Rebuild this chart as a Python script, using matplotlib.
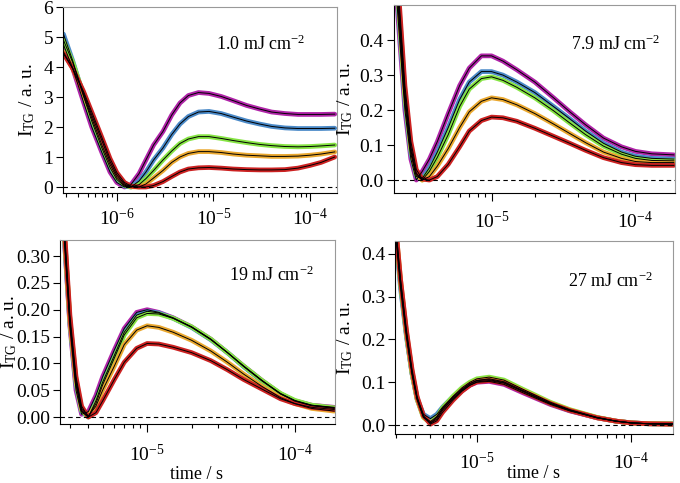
import matplotlib
matplotlib.use("Agg")
import matplotlib.pyplot as plt
from matplotlib.ticker import LogLocator, NullFormatter

plt.rcParams['font.family'] = ['Liberation Serif', 'DejaVu Serif']
plt.rcParams['mathtext.fontset'] = 'custom'
plt.rcParams['mathtext.rm'] = 'Liberation Serif'
plt.rcParams['mathtext.it'] = 'Liberation Serif:italic'
plt.rcParams['font.size'] = 12

colors = ["#b024a8", "#4b8ac8", "#86e444", "#eaa830", "#cc2222"]

# ---- 1.0 mJ cm-2 ----
t1 = [2.8e-7, 3.5e-7, 4.5e-7, 5.5e-7, 7e-7, 8.5e-7, 1e-6, 1.2e-6, 1.4e-6, 1.7e-6, 2e-6, 2.4e-6, 3e-6, 3.7e-6,
      4.5e-6, 5.5e-6, 7e-6, 9e-6, 1.2e-5, 1.6e-5, 2.2e-5, 3e-5, 4e-5, 5.5e-5, 7.5e-5, 1e-4, 1.3e-4, 1.8e-4]
m1 = [4.75, 3.95, 2.85, 2.0, 1.15, 0.5, 0.15, 0.0, 0.08, 0.45, 0.9, 1.4, 1.85, 2.4, 2.8, 3.05, 3.15, 3.12,
      3.02, 2.88, 2.72, 2.6, 2.5, 2.45, 2.42, 2.42, 2.42, 2.43]
b1 = [5.1, 4.2, 3.05, 2.2, 1.3, 0.65, 0.25, 0.03, 0.0, 0.2, 0.5, 0.9, 1.3, 1.75, 2.1, 2.35, 2.5, 2.52,
      2.45, 2.33, 2.2, 2.1, 2.02, 1.97, 1.95, 1.95, 1.95, 1.96]
g1 = [4.9, 4.15, 3.1, 2.3, 1.4, 0.75, 0.32, 0.06, 0.0, 0.08, 0.28, 0.55, 0.9, 1.2, 1.45, 1.6, 1.68, 1.68,
      1.62, 1.55, 1.48, 1.42, 1.38, 1.35, 1.34, 1.35, 1.37, 1.4]
o1 = [4.5, 3.95, 3.15, 2.4, 1.55, 0.85, 0.4, 0.1, 0.01, 0.0, 0.1, 0.3, 0.55, 0.82, 1.0, 1.12, 1.18, 1.18,
      1.15, 1.1, 1.06, 1.04, 1.02, 1.02, 1.03, 1.06, 1.1, 1.17]
r1 = [4.45, 3.95, 3.2, 2.5, 1.65, 0.95, 0.48, 0.15, 0.03, 0.0, 0.0, 0.05, 0.18, 0.35, 0.5, 0.6, 0.64, 0.65,
      0.63, 0.6, 0.58, 0.57, 0.57, 0.58, 0.63, 0.72, 0.82, 1.0]

# ---- 7.9 mJ cm-2 ----
t2 = [2.1e-6, 2.3e-6, 2.5e-6, 2.75e-6, 3e-6, 3.3e-6, 3.7e-6, 4.2e-6, 5e-6, 6e-6, 7e-6, 8.5e-6, 1e-5, 1.2e-5,
      1.5e-5, 2e-5, 2.7e-5, 3.5e-5, 4.5e-5, 6e-5, 8e-5, 1e-4, 1.3e-4, 1.85e-4]
m2 = [0.62, 0.40, 0.2, 0.06, 0.0, 0.025, 0.06, 0.11, 0.19, 0.27, 0.32, 0.355, 0.355, 0.34, 0.315, 0.28,
      0.235, 0.195, 0.158, 0.12, 0.095, 0.082, 0.075, 0.072]
b2 = [0.66, 0.43, 0.22, 0.075, 0.01, 0.005, 0.035, 0.08, 0.15, 0.23, 0.28, 0.31, 0.31, 0.3, 0.28, 0.25,
      0.21, 0.175, 0.14, 0.105, 0.08, 0.068, 0.062, 0.06]
g2 = [0.68, 0.45, 0.24, 0.085, 0.015, 0.0, 0.025, 0.065, 0.13, 0.21, 0.26, 0.29, 0.295, 0.285, 0.265, 0.235,
      0.198, 0.163, 0.13, 0.097, 0.074, 0.062, 0.056, 0.055]
o2 = [0.70, 0.47, 0.25, 0.095, 0.02, 0.0, 0.01, 0.04, 0.09, 0.15, 0.195, 0.225, 0.235, 0.23, 0.215, 0.19,
      0.16, 0.133, 0.107, 0.08, 0.062, 0.053, 0.05, 0.05]
r2 = [0.72, 0.49, 0.27, 0.11, 0.03, 0.003, 0.0, 0.01, 0.045, 0.095, 0.14, 0.17, 0.18, 0.178, 0.168, 0.148,
      0.125, 0.105, 0.085, 0.064, 0.05, 0.044, 0.042, 0.042]

# ---- 19 mJ cm-2 ----
t3 = [2.6e-6, 2.8e-6, 3e-6, 3.3e-6, 3.6e-6, 4e-6, 4.5e-6, 5e-6, 6e-6, 7e-6, 8.5e-6, 1e-5, 1.2e-5, 1.5e-5,
      2e-5, 2.7e-5, 3.5e-5, 4.5e-5, 6e-5, 8e-5, 1e-4, 1.3e-4, 1.85e-4]
m3 = [0.44, 0.3, 0.17, 0.05, 0.005, 0.01, 0.04, 0.075, 0.125, 0.165, 0.195, 0.2, 0.195, 0.185, 0.168, 0.145,
      0.12, 0.095, 0.068, 0.043, 0.03, 0.022, 0.018]
b3 = [0.44, 0.3, 0.175, 0.06, 0.01, 0.0, 0.03, 0.065, 0.115, 0.158, 0.19, 0.197, 0.194, 0.184, 0.167, 0.144,
      0.12, 0.094, 0.067, 0.043, 0.03, 0.021, 0.016]
g3 = [0.45, 0.31, 0.18, 0.065, 0.012, 0.0, 0.025, 0.06, 0.11, 0.153, 0.185, 0.193, 0.192, 0.184, 0.168, 0.145,
      0.12, 0.095, 0.068, 0.044, 0.031, 0.022, 0.017]
o3 = [0.45, 0.31, 0.18, 0.07, 0.015, 0.002, 0.02, 0.05, 0.095, 0.135, 0.162, 0.17, 0.167, 0.158, 0.143, 0.123,
      0.102, 0.08, 0.057, 0.036, 0.025, 0.016, 0.011]
r3 = [0.46, 0.32, 0.19, 0.075, 0.02, 0.0, 0.008, 0.03, 0.07, 0.102, 0.128, 0.137, 0.136, 0.13, 0.12, 0.105,
      0.088, 0.07, 0.052, 0.034, 0.025, 0.018, 0.014]

# ---- 27 mJ cm-2 ----
t4 = [2.95e-6, 3.2e-6, 3.5e-6, 3.8e-6, 4.1e-6, 4.5e-6, 5e-6, 5.5e-6, 6e-6, 7e-6, 8e-6, 9e-6, 1e-5, 1.2e-5,
      1.5e-5, 2e-5, 3e-5, 4e-5, 6e-5, 8e-5, 1e-4, 1.3e-4, 1.85e-4]
m4 = [0.47, 0.33, 0.21, 0.12, 0.06, 0.02, 0.008, 0.02, 0.038, 0.062, 0.08, 0.093, 0.1, 0.102, 0.095, 0.075,
      0.048, 0.033, 0.017, 0.009, 0.005, 0.003, 0.003]
b4 = [0.46, 0.32, 0.205, 0.12, 0.062, 0.025, 0.015, 0.025, 0.042, 0.066, 0.084, 0.097, 0.104, 0.106, 0.099,
      0.079, 0.05, 0.034, 0.017, 0.009, 0.005, 0.003, 0.002]
g4 = [0.47, 0.33, 0.21, 0.12, 0.06, 0.018, 0.005, 0.018, 0.04, 0.067, 0.087, 0.1, 0.108, 0.112, 0.105, 0.083,
      0.053, 0.036, 0.018, 0.009, 0.005, 0.003, 0.003]
o4 = [0.48, 0.34, 0.215, 0.125, 0.063, 0.02, 0.004, 0.014, 0.035, 0.062, 0.082, 0.096, 0.104, 0.108, 0.101,
      0.08, 0.051, 0.035, 0.017, 0.009, 0.005, 0.003, 0.002]
r4 = [0.48, 0.34, 0.22, 0.13, 0.066, 0.022, 0.002, 0.01, 0.03, 0.058, 0.079, 0.093, 0.101, 0.104, 0.098,
      0.078, 0.05, 0.034, 0.017, 0.009, 0.005, 0.003, 0.002]

labels = ["1.0 mJ cm$^{-2}$", "7.9 mJ cm$^{-2}$", "19 mJ cm$^{-2}$", "27 mJ cm$^{-2}$"]

panels = [
    dict(t=t1, ys=[m1, b1, g1, o1, r1], rect=[0.0926, 0.6004, 0.403, 0.385], xlim=(2.77e-7, 1.9e-4),
         ylim=(-0.2, 6.0), yt=[0, 1, 2, 3, 4, 5, 6], yfmt="%d", lab=(0.72, 0.80),
         ylc=(-0.095, 0.5), xlc=None, xpad=5),
    dict(t=t2, ys=[m2, b2, g2, o2, r2], rect=[0.579, 0.6004, 0.413, 0.389], xlim=(2.09e-6, 1.87e-4),
         ylim=(-0.037, 0.5), yt=[0.0, 0.1, 0.2, 0.3, 0.4], yfmt="%.1f", lab=(0.79, 0.79),
         ylc=(-0.139, 0.5), xlc=None, xpad=7),
    dict(t=t3, ys=[m3, b3, g3, o3, r3], rect=[0.0882, 0.1222, 0.4044, 0.381], xlim=(2.57e-6, 1.87e-4),
         ylim=(-0.013, 0.33), yt=[0.0, 0.05, 0.10, 0.15, 0.20, 0.25, 0.30], yfmt="%.2f", lab=(0.77, 0.81),
         ylc=(-0.148, 0.5), xlc=(0.498, -0.275), xpad=8),
    dict(t=t4, ys=[m4, b4, g4, o4, r4], rect=[0.581, 0.1014, 0.409, 0.3996], xlim=(2.95e-6, 1.87e-4),
         ylim=(-0.021, 0.43), yt=[0.0, 0.1, 0.2, 0.3, 0.4], yfmt="%.1f", lab=(0.773, 0.79),
         ylc=(-0.144, 0.5), xlc=(0.496, -0.205), xpad=7),
]

fig = plt.figure(figsize=(6.8, 4.83), dpi=100)

for p, lab in zip(panels, labels):
    ax = fig.add_axes(p["rect"])
    for y, c in zip(p["ys"], colors):
        ax.plot(p["t"], y, color=c, lw=3.4, solid_joinstyle="round", solid_capstyle="round")
    for y in p["ys"]:
        ax.plot(p["t"], y, color="black", lw=0.7)
    ax.axhline(0, color="black", lw=0.8, ls=(0, (4, 3)))
    ax.set_xscale("log")
    ax.set_xlim(p["xlim"])
    ax.set_ylim(p["ylim"])
    ax.set_yticks(p["yt"])
    ax.set_yticklabels([p["yfmt"] % v for v in p["yt"]])
    ax.xaxis.set_major_locator(LogLocator(base=10, numticks=10))
    ax.xaxis.set_minor_locator(LogLocator(base=10, subs=range(2, 10), numticks=20))
    ax.xaxis.set_minor_formatter(NullFormatter())
    ax.tick_params(axis="x", which="major", length=6, width=0.8, pad=p["xpad"], labelsize=14)
    ax.tick_params(axis="x", which="minor", length=3, width=0.8)
    ax.tick_params(axis="y", which="major", length=5, width=0.8, pad=2, labelsize=14)
    for s in ["top", "right"]:
        ax.spines[s].set_color("#999999")
    ax.set_ylabel("I$_{\\mathrm{TG}}$ / a. u.", fontsize=14)
    ax.yaxis.set_label_coords(*p["ylc"])
    if p["xlc"] is not None:
        ax.set_xlabel("time / s", fontsize=13)
        ax.xaxis.label.set_va("center")
        ax.xaxis.set_label_coords(*p["xlc"])
    ax.text(p["lab"][0], p["lab"][1], lab, transform=ax.transAxes, ha="center", va="center", fontsize=13)

fig.savefig("out.png", dpi=100)
